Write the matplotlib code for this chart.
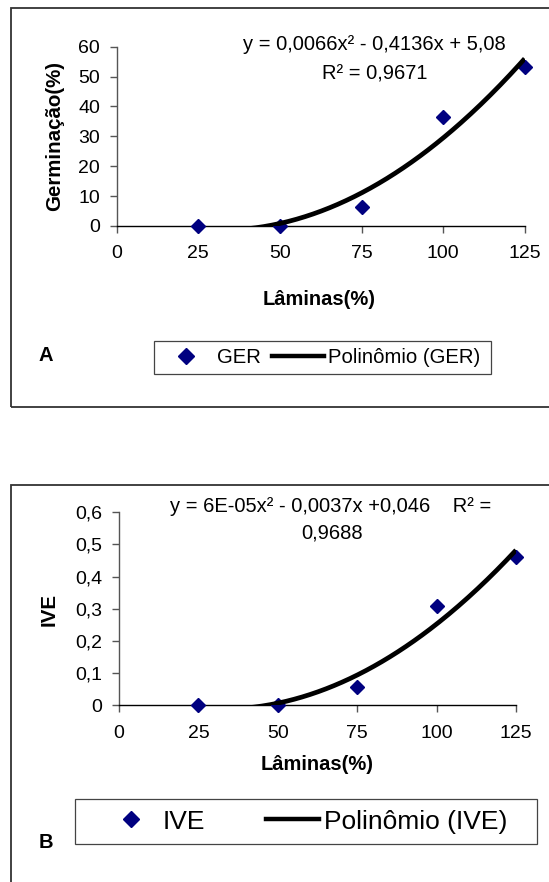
import numpy as np
import matplotlib
matplotlib.use('Agg')
import matplotlib.pyplot as plt
from matplotlib.patches import Rectangle
from matplotlib.lines import Line2D

plt.rcParams['font.family'] = ['Liberation Sans', 'DejaVu Sans']

# data
laminas = [25, 50, 75, 100, 125]
ger = [0, 0, 6.5, 36.4, 53.3]
ive = [0, 0, 0.056, 0.31, 0.46]

x_ticks = [0, 25, 50, 75, 100, 125]
ger_ticks = [0, 10, 20, 30, 40, 50, 60]
ive_ticks = [0, 0.1, 0.2, 0.3, 0.4, 0.5, 0.6]
ive_tick_labels = ['0', '0,1', '0,2', '0,3', '0,4', '0,5', '0,6']

eq_ger = ['y = 0,0066x² - 0,4136x + 5,08', 'R² = 0,9671']
eq_ive = ['y = 6E-05x² - 0,0037x +0,046    R² =', '0,9688']

NAVY = '#000080'
W, H = 549, 882
fig = plt.figure(figsize=(W / 100, H / 100), dpi=100)


def box(l, t, r, b):
    return [l / W, 1 - b / H, (r - l) / W, (b - t) / H]


def pt(x, y):
    return (x / W, 1 - y / H)


def frame(l, t, r, b, lw=1.3, ec='#333333'):
    fig.add_artist(Rectangle(pt(l, b), (r - l) / W, (b - t) / H, transform=fig.transFigure,
                             fill=False, lw=lw, ec=ec))


def style(ax):
    for s in ['top', 'right']:
        ax.spines[s].set_visible(False)
    ax.spines['left'].set_color('#555555')
    ax.spines['bottom'].set_color('black')
    ax.spines['left'].set_linewidth(1.0)
    ax.spines['bottom'].set_linewidth(1.0)
    ax.tick_params(axis='both', direction='out', length=5, width=1, color='#555555', labelsize=14)
    ax.tick_params(axis='x', pad=9)
    ax.tick_params(axis='y', pad=7)
    ax.set_xlim(0, 125)
    ax.set_xticks(x_ticks)


def trend(ax, y):
    coef = np.polyfit(laminas, y, 2)
    xs = np.linspace(laminas[0], laminas[-1], 200)
    ax.plot(laminas, y, ls='none', marker='D', ms=7.5, color=NAVY, clip_on=False, zorder=3)
    ax.plot(xs, np.polyval(coef, xs), color='black', lw=3.4, zorder=4, solid_capstyle='butt')


# ---- panel A ----
frame(10.7, 8.3, W + 20, 406.7)
axA = fig.add_axes(box(116.7, 46.7, 524.7, 226))
style(axA)
axA.set_ylim(0, 60)
axA.set_yticks(ger_ticks)
trend(axA, ger)

fig.text(*pt(374, 45), eq_ger[0], fontsize=14.5, ha='center', va='center')
fig.text(*pt(374.3, 74), eq_ger[1], fontsize=14.5, ha='center', va='center')
fig.text(*pt(319.5, 299.3), 'Lâminas(%)', fontsize=14.5, fontweight='bold', ha='center', va='center')
fig.text(*pt(55, 136), 'Germinação(%)', fontsize=14.8, fontweight='bold', rotation=90,
         ha='center', va='center')
fig.text(*pt(45.7, 356), 'A', fontsize=14.5, fontweight='bold', ha='center', va='center')

frame(154, 340.7, 490.7, 374, lw=0.9, ec='#444444')
hA = [Line2D([], [], ls='none', marker='D', ms=8.2, color=NAVY),
      Line2D([], [], color='black', lw=3.2)]
fig.legend(hA, ['GER', 'Polinômio (GER)'], loc='center left', bbox_to_anchor=pt(160.5, 357.4),
           ncol=2, frameon=False, borderpad=0, borderaxespad=0, numpoints=1,
           handlelength=2.55, handletextpad=0.22, columnspacing=0.57, fontsize=14.6)

# ---- panel B ----
frame(10.7, 485, W + 20, H + 20)
axB = fig.add_axes(box(119, 512.3, 516, 705.3))
style(axB)
axB.set_ylim(0, 0.6)
axB.set_yticks(ive_ticks)
axB.set_yticklabels(ive_tick_labels)
trend(axB, ive)

fig.text(*pt(330.8, 506), eq_ive[0], fontsize=14.5, ha='center', va='center')
fig.text(*pt(332, 533.3), eq_ive[1], fontsize=14.5, ha='center', va='center')
fig.text(*pt(317, 765), 'Lâminas(%)', fontsize=14.5, fontweight='bold', ha='center', va='center')
fig.text(*pt(49.3, 610), 'IVE', fontsize=14.8, fontweight='bold', rotation=90,
         ha='center', va='center')
fig.text(*pt(45.7, 842.7), 'B', fontsize=14.5, fontweight='bold', ha='center', va='center')

frame(74.7, 799.3, 537.3, 844, lw=0.9, ec='#444444')
hB = [Line2D([], [], ls='none', marker='D', ms=8, color=NAVY),
      Line2D([], [], color='black', lw=3.2)]
fig.legend(hB, ['IVE', 'Polinômio (IVE)'], loc='center left', bbox_to_anchor=pt(105, 821.7),
           ncol=2, frameon=False, borderpad=0, borderaxespad=0, numpoints=1,
           handlelength=2.0, handletextpad=0.2, columnspacing=2.3, fontsize=19)

fig.savefig('out.png', dpi=100)
